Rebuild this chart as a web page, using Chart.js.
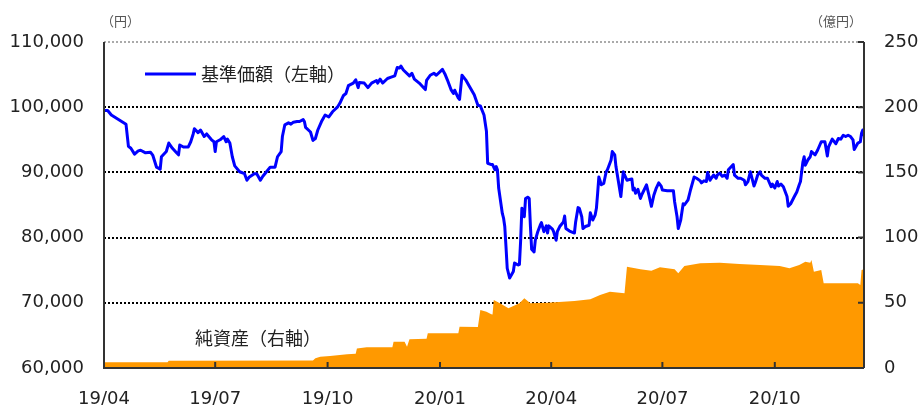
<!DOCTYPE html>
<html lang="ja">
<head>
<meta charset="utf-8">
<title>基準価額・純資産の推移</title>
<script src="https://cdn.jsdelivr.net/npm/chart.js@4.4.1/dist/chart.umd.min.js"></script>
<style>
  html, body { margin: 0; padding: 0; background: #fff; }
  #wrap { width: 919px; height: 405px; }
</style>
</head>
<body>
<div id="wrap"><canvas id="navChart"></canvas></div>
<script>
// 経過日数（2019/04/01 = 0）と基準価額（円）
const priceDays = [
  0, 3, 6, 18, 20, 22, 25, 28, 30, 34, 38, 40, 43, 46, 47, 51, 53, 56, 59, 61,
  62, 65, 69, 71, 73, 74, 77, 79, 82, 84, 88, 90, 91, 92, 95, 98, 100, 101, 103, 105,
  107, 111, 115, 117, 119, 123, 125, 128, 130, 133, 136, 140, 142, 145, 146, 148, 151, 153, 155, 158,
  160, 163, 164, 165, 169, 171, 173, 175, 178, 181, 184, 187, 191, 193, 196, 198, 200, 204, 206, 208,
  209, 213, 216, 219, 223, 224, 226, 228, 232, 235, 238, 240, 242, 243, 245, 250, 252, 254, 258, 262,
  263, 264, 267, 270, 272, 277, 279, 281, 284, 286, 287, 290, 291, 293, 296, 299, 303, 306, 308, 311,
  313, 314, 317, 318, 320, 321, 322, 323, 326, 327, 328, 329, 330, 332, 335, 336, 339, 340, 341, 342,
  344, 345, 347, 348, 349, 350, 352, 353, 355, 357, 358, 360, 362, 363, 364, 367, 368, 370, 371, 373,
  376, 377, 378, 381, 385, 386, 388, 389, 391, 392, 394, 397, 398, 400, 402, 403, 404, 405, 407, 409,
  411, 412, 415, 416, 418, 419, 421, 423, 425, 426, 428, 430, 432, 433, 434, 435, 437, 439, 440, 442,
  444, 446, 448, 450, 452, 454, 456, 457, 461, 466, 467, 469, 470, 472, 474, 475, 478, 480, 483, 485,
  488, 489, 491, 493, 494, 496, 497, 499, 501, 502, 504, 506, 508, 510, 511, 515, 516, 519, 521, 524,
  525, 527, 529, 532, 533, 535, 537, 538, 541, 543, 546, 547, 549, 551, 552, 554, 556, 557, 559, 560,
  562, 565, 567, 569, 570, 572, 573, 574, 576, 578, 579, 582, 584, 587, 590, 592, 593, 596, 599, 601,
  603, 605, 607, 609, 611, 613, 614, 617, 619, 620, 621, 622
];
const priceValues = [
  99500, 99500, 98800, 97400, 94000, 93700, 92800, 93300, 93400, 93000, 93100, 92600, 90800, 90500, 92400, 93200, 94500, 93700, 93100, 92700,
  94200, 93900, 93900, 94700, 95900, 96700, 96100, 96500, 95500, 95900, 95000, 94700, 93200, 94700, 95000, 95500, 94700, 95100, 94500, 92400,
  91000, 90100, 89800, 88800, 89300, 89800, 89800, 88800, 89400, 90100, 90800, 90800, 92400, 93200, 95500, 97300, 97600, 97400, 97700, 97800,
  97800, 98100, 97800, 96900, 96200, 94900, 95200, 96500, 97800, 98800, 98500, 99300, 100000, 100600, 101800, 102100, 103300, 103700, 104200, 103000,
  103800, 103700, 103000, 103700, 104100, 103700, 104300, 103700, 104400, 104600, 104800, 106100, 106000, 106300, 105700, 104800, 105200, 104300, 103700, 102900,
  102700, 104100, 104900, 105200, 104900, 105800, 105100, 104200, 102700, 102100, 102600, 101400, 101200, 104900, 104200, 103200, 101900, 100300, 100200, 98800,
  96300, 91400, 91200, 91200, 90400, 90900, 90400, 87600, 83700, 83000, 81700, 78600, 75300, 73800, 74800, 76100, 75800, 75900, 79600, 84500,
  83200, 86000, 86200, 86000, 81700, 78200, 77800, 79600, 80900, 81900, 82300, 80900, 81800, 80700, 81800, 81300, 80900, 79600, 80900, 81700,
  82400, 83300, 81400, 81000, 80700, 82400, 84600, 84500, 83200, 81400, 81700, 81900, 83800, 82700, 83500, 84500, 86800, 89300, 88100, 88300,
  90100, 90400, 91900, 93200, 92700, 90900, 88600, 86300, 90100, 89600, 88800, 88900, 89000, 87300, 87600, 86800, 87400, 86000, 86500, 87300,
  88100, 86500, 84800, 86500, 87600, 88400, 87900, 87300, 87200, 87200, 85500, 83200, 81400, 82700, 85200, 85000, 85800, 87300, 89300, 89100,
  88700, 88400, 88700, 88600, 90000, 88800, 89100, 89600, 89100, 89600, 89900, 89400, 89600, 89100, 90400, 91200, 89600, 89100, 89100, 88800,
  88100, 88600, 90100, 87900, 88400, 89600, 90100, 89600, 89100, 89100, 87800, 88200, 87600, 88600, 87900, 88200, 87800, 87300, 86300, 84800,
  85200, 86300, 87000, 88100, 88600, 91600, 92400, 91100, 91900, 92400, 93200, 92700, 93400, 94700, 94700, 92500, 93900, 95100, 94400, 95200,
  95100, 95700, 95500, 95700, 95500, 95000, 93500, 94500, 94700, 96000, 96500, 95700
];

// 経過日数と純資産（億円）
const assetDays = [
  0, 52, 53, 171, 173, 177, 185, 199, 206, 207, 215, 236, 237, 246, 248, 250, 264, 265, 290, 291,
  306, 308, 313, 317, 318, 319, 324, 331, 340, 344, 349, 363, 385, 398, 406, 414, 426, 428, 439, 448,
  455, 467, 470, 475, 488, 504, 520, 537, 553, 561, 569, 574, 578, 579, 581, 587, 589, 617, 619, 620, 622
];
const assetValues = [
  4.5, 4.5, 5.5, 5.8, 7.4, 8.7, 9.2, 10.5, 11, 15, 15.9, 16, 20.2, 20.2, 16.3, 22, 22.5, 26.6, 26.6, 31.7,
  31.5, 44.5, 43.2, 41.2, 41, 52.1, 49.6, 45.8, 49.6, 53.4, 49.6, 50.1, 51.4, 52.7, 56, 58.5, 57.3, 77.7, 75.7, 74.6,
  77.2, 75.7, 72.6, 78.2, 80.3, 80.8, 79.8, 79, 78.2, 76.4, 79, 81.5, 80.8, 82.8, 73.8, 75.2, 65, 65, 63.6, 75.2, 75.7
];

// 目盛り（四半期ごと）
const tickDays = [0, 91, 183, 275, 366, 457, 549];
const tickLabels = ['19/04', '19/07', '19/10', '20/01', '20/04', '20/07', '20/10'];
const lastDay = 622;

const latinFont = "'DejaVu Sans', Verdana, sans-serif";
const jpFont = "'Noto Sans CJK JP', sans-serif";
const frameColor = '#333';

// 軸線・内向き目盛り・凡例テキストを描く
const decorations = {
  id: 'decorations',
  afterDatasetsDraw(chart) {
    const { ctx, chartArea: a, scales } = chart;
    ctx.save();
    ctx.strokeStyle = frameColor;
    ctx.lineWidth = 2;
    ctx.beginPath();
    ctx.moveTo(a.left, a.top);
    ctx.lineTo(a.left, a.bottom);
    ctx.lineTo(a.right, a.bottom);
    ctx.moveTo(a.right, a.top);
    ctx.lineTo(a.right, a.bottom);
    // x軸の目盛り（内向き）
    scales.x.ticks.forEach(t => {
      const px = scales.x.getPixelForValue(t.value);
      ctx.moveTo(px, a.bottom);
      ctx.lineTo(px, a.bottom - 6);
    });
    // 右軸の目盛り（内向き）
    scales.y1.ticks.forEach(t => {
      const py = scales.y1.getPixelForValue(t.value);
      ctx.moveTo(a.right, py);
      ctx.lineTo(a.right - 6, py);
    });
    ctx.stroke();

    // 凡例
    ctx.strokeStyle = '#0000ff';
    ctx.lineWidth = 3;
    ctx.beginPath();
    ctx.moveTo(a.left + 41, a.top + 32);
    ctx.lineTo(a.left + 92, a.top + 32);
    ctx.stroke();

    ctx.fillStyle = '#222';
    ctx.font = '18px ' + jpFont;
    ctx.textBaseline = 'middle';
    ctx.textAlign = 'left';
    ctx.fillText('基準価額（左軸）', a.left + 97, a.top + 32);
    ctx.fillText('純資産（右軸）', a.left + 91, a.top + 296);

    // 単位
    ctx.fillStyle = '#555';
    ctx.font = '13px ' + jpFont;
    ctx.fillText('（円）', a.left - 3, 21);
    ctx.textAlign = 'right';
    ctx.fillText('（億円）', a.right - 2, 21);
    ctx.restore();
  }
};

const ctx = document.getElementById('navChart');

new Chart(ctx, {
  type: 'line',
  data: {
    datasets: [
      {
        label: '基準価額（左軸）',
        data: priceDays.map((d, i) => ({ x: d, y: priceValues[i] })),
        yAxisID: 'y',
        borderColor: '#0000ff',
        borderWidth: 3,
        borderJoinStyle: 'round',
        borderCapStyle: 'round',
        pointRadius: 0,
        tension: 0,
        fill: false,
        order: 0
      },
      {
        label: '純資産（右軸）',
        data: assetDays.map((d, i) => ({ x: d, y: assetValues[i] })),
        yAxisID: 'y1',
        borderWidth: 0,
        backgroundColor: '#ff9900',
        pointRadius: 0,
        tension: 0,
        fill: 'origin',
        order: 1
      }
    ]
  },
  options: {
    responsive: true,
    maintainAspectRatio: false,
    animation: false,
    devicePixelRatio: 1,
    layout: { padding: { top: 42, left: 0, right: 0, bottom: 0 } },
    scales: {
      x: {
        type: 'linear',
        min: 0,
        max: lastDay,
        afterBuildTicks: s => { s.ticks = tickDays.map(v => ({ value: v })); },
        afterFit: s => { s.height = 37; },
        grid: { display: false },
        border: { display: false },
        ticks: {
          autoSkip: false,
          maxRotation: 0,
          padding: 13,
          color: '#222',
          font: { family: latinFont, size: 18 },
          callback: v => tickLabels[tickDays.indexOf(v)] ?? ''
        }
      },
      y: {
        position: 'left',
        min: 60000,
        max: 110000,
        afterFit: s => { s.width = 104; },
        grid: {
          drawTicks: false,
          lineWidth: 2,
          color: c => c.tick.value === 110000 ? '#aaaaaa'
            : c.tick.value === 60000 ? 'rgba(0,0,0,0)' : '#000'
        },
        border: { display: false, dash: [2, 2] },
        ticks: {
          stepSize: 10000,
          padding: 20,
          color: '#222',
          font: { family: latinFont, size: 18 },
          callback: v => v.toLocaleString('en-US')
        }
      },
      y1: {
        position: 'right',
        min: 0,
        max: 250,
        afterFit: s => { s.width = 55; },
        grid: { drawOnChartArea: false, drawTicks: false },
        border: { display: false },
        ticks: {
          stepSize: 50,
          padding: 20,
          color: '#222',
          font: { family: latinFont, size: 18 }
        }
      }
    },
    plugins: {
      legend: { display: false },
      tooltip: { enabled: false }
    }
  },
  plugins: [decorations]
});
</script>
</body>
</html>
